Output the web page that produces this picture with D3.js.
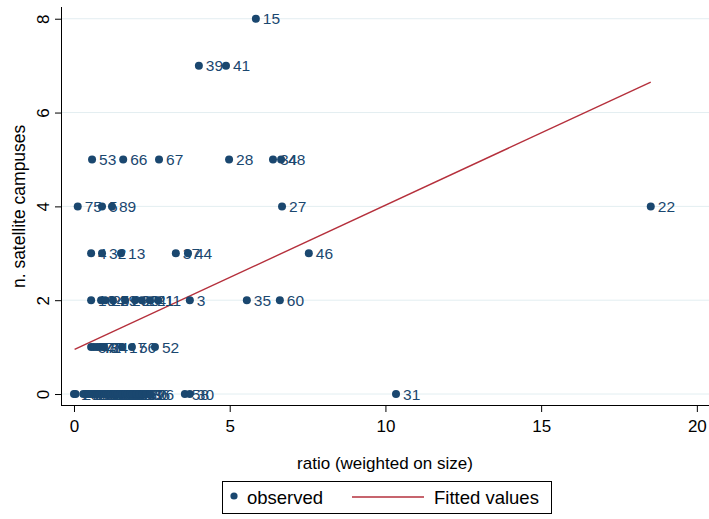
<!DOCTYPE html>
<html>
<head>
<meta charset="utf-8">
<script src="https://cdn.jsdelivr.net/npm/d3@7"></script>
<style>
  body { margin: 0; background: #fff; }
  text { font-family: "Liberation Sans", Arial, sans-serif; }
</style>
</head>
<body>
<div id="chart"></div>
<script>
// Observation ids, ratio (weighted on size) and number of satellite campuses
const ids = [
  15, 39, 41,
  53, 66, 67, 28, 34, 48,
  75, 5, 89, 27, 22,
  4, 32, 13, 37, 44, 46,
  10, 14, 25, 29, 23, 20, 24, 21, 11, 3, 35, 60,
  57, 43, 71, 47, 74, 17, 56, 52,
  1, 2, 6, 8, 9, 12, 16, 18, 19, 33, 38, 40, 42, 45, 49, 50, 51, 54, 55, 59,
  61, 62, 63, 64, 65, 68, 69, 70, 36, 26, 58, 30, 31
];
const ratio = [
  5.84, 4.01, 4.88,
  0.58, 1.58, 2.73, 4.98, 6.39, 6.65,
  0.12, 0.9, 1.22, 6.68, 18.52,
  0.55, 0.9, 1.51, 3.27, 3.66, 7.54,
  0.55, 0.87, 1.0, 1.25, 1.64, 1.96, 2.18, 2.44, 2.7, 3.72, 5.55, 6.61,
  0.55, 0.64, 0.74, 0.83, 0.96, 1.54, 1.86, 2.6,
  0.0, 0.05, 0.3, 0.38, 0.45, 0.5, 0.57, 0.63, 0.7, 0.76, 0.82, 0.9, 0.97, 1.04, 1.1, 1.18, 1.26, 1.33, 1.4, 1.48,
  1.56, 1.64, 1.72, 1.8, 1.88, 2.0, 2.1, 2.2, 2.31, 2.44, 3.56, 3.72, 10.34
];
const campuses = [
  8, 7, 7,
  5, 5, 5, 5, 5, 5,
  4, 4, 4, 4, 4,
  3, 3, 3, 3, 3, 3,
  2, 2, 2, 2, 2, 2, 2, 2, 2, 2, 2, 2,
  1, 1, 1, 1, 1, 1, 1, 1,
  0, 0, 0, 0, 0, 0, 0, 0, 0, 0, 0, 0, 0, 0, 0, 0, 0, 0, 0, 0,
  0, 0, 0, 0, 0, 0, 0, 0, 0, 0, 0, 0, 0
];

// Fitted values (end points of the linear fit)
const fitX = [0.02, 18.52];
const fitY = [0.95, 6.65];

const xTicks = [0, 5, 10, 15, 20];
const yTicks = [0, 2, 4, 6, 8];

const W = 709, H = 519;
const NAVY = "#1a476f";
const RED = "#b5303c";

const svg = d3.select("#chart").append("svg")
    .attr("width", W)
    .attr("height", H);

const x = d3.scaleLinear().domain([-0.385, 20.39]).range([62, 709]);
const y = d3.scaleLinear().domain([-0.234, 8.25]).range([405, 7]);

// Gridlines
svg.append("g")
    .selectAll("line")
    .data(yTicks)
    .join("line")
    .attr("x1", 62).attr("x2", W)
    .attr("y1", d => y(d)).attr("y2", d => y(d))
    .attr("stroke", "#e3eef1")
    .attr("stroke-width", 1);

// Axes
const xAxis = svg.append("g")
    .attr("transform", "translate(0,405)")
    .call(d3.axisBottom(x).tickValues(xTicks).tickSize(7).tickPadding(8).tickSizeOuter(0));
xAxis.select(".domain").remove();
xAxis.selectAll("text").style("font-size", "17px").attr("fill", "#000");
xAxis.selectAll("line").attr("stroke", "#000");
svg.append("line")
    .attr("x1", 62).attr("x2", W).attr("y1", 405.5).attr("y2", 405.5)
    .attr("stroke", "#000");

const yAxis = svg.append("g")
    .attr("transform", "translate(62,0)")
    .call(d3.axisLeft(y).tickValues(yTicks).tickSize(7).tickSizeOuter(0));
yAxis.select(".domain").remove();
yAxis.selectAll("line").attr("stroke", "#000");
yAxis.selectAll("text")
    .style("font-size", "17px")
    .attr("fill", "#000")
    .attr("x", null).attr("dy", null)
    .attr("text-anchor", "middle")
    .attr("transform", "translate(-19,0) rotate(-90)")
    .attr("dy", "0.36em");
svg.append("line")
    .attr("x1", 61.5).attr("x2", 61.5).attr("y1", 7).attr("y2", 406)
    .attr("stroke", "#000");

// Axis titles
svg.append("text")
    .attr("x", 385).attr("y", 469)
    .attr("text-anchor", "middle")
    .style("font-size", "17px")
    .text("ratio (weighted on size)");

svg.append("text")
    .attr("transform", `translate(25, ${y(4)}) rotate(-90)`)
    .attr("text-anchor", "middle")
    .style("font-size", "17.5px")
    .text("n. satellite campuses");

// Fitted line
svg.append("line")
    .attr("x1", x(fitX[0])).attr("y1", y(fitY[0]))
    .attr("x2", x(fitX[1])).attr("y2", y(fitY[1]))
    .attr("stroke", RED)
    .attr("stroke-width", 1.4);

// Observations with marker labels
const points = ids.map((id, i) => ({ id, r: ratio[i], c: campuses[i] }));
const pg = svg.append("g")
    .selectAll("g")
    .data(points)
    .join("g")
    .attr("transform", d => `translate(${x(d.r)},${y(d.c)})`);
pg.append("circle")
    .attr("r", 4)
    .attr("fill", NAVY);
pg.append("text")
    .attr("x", 7)
    .attr("dy", "0.36em")
    .attr("fill", NAVY)
    .style("font-size", "15.5px")
    .text(d => d.id);

// Legend
const lg = svg.append("g");
lg.append("rect")
    .attr("x", 222.5).attr("y", 481.5)
    .attr("width", 329).attr("height", 32)
    .attr("fill", "#fff")
    .attr("stroke", "#000");
lg.append("circle")
    .attr("cx", 234).attr("cy", 496)
    .attr("r", 3.6)
    .attr("fill", NAVY);
lg.append("text")
    .attr("x", 247).attr("y", 503.5)
    .style("font-size", "18.5px")
    .text("observed");
lg.append("line")
    .attr("x1", 352).attr("x2", 424).attr("y1", 497).attr("y2", 497)
    .attr("stroke", RED)
    .attr("stroke-width", 1.4);
lg.append("text")
    .attr("x", 434).attr("y", 503.5)
    .style("font-size", "18.5px")
    .text("Fitted values");
</script>
</body>
</html>
